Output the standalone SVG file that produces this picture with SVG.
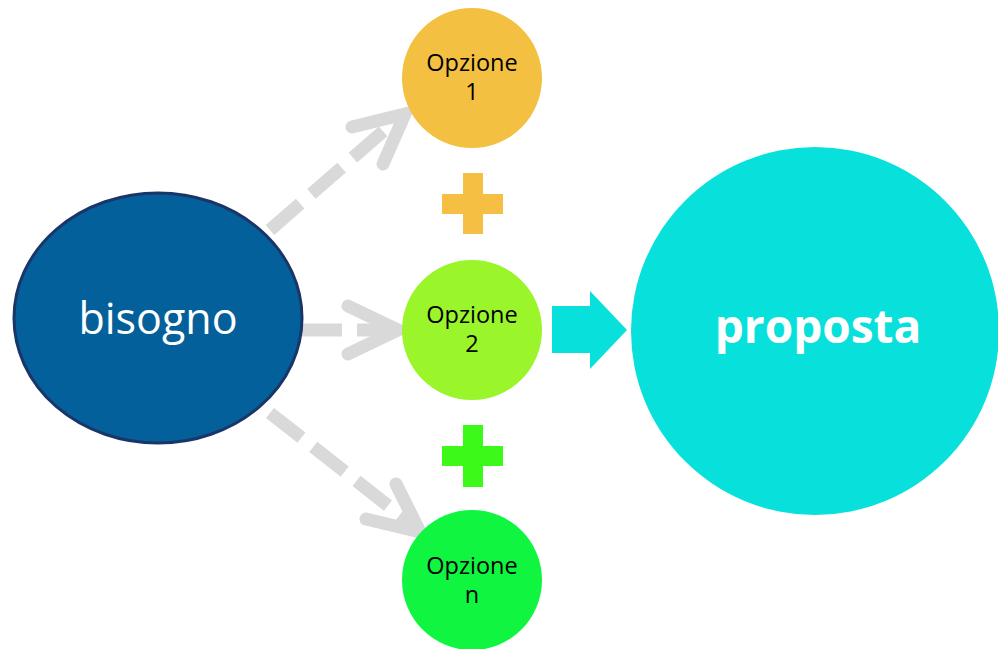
<svg xmlns="http://www.w3.org/2000/svg" width="998" height="649" viewBox="0 0 998 649">
<style>
.opt{font-family:"Open Sans","Noto Sans",sans-serif;font-size:23.5px;fill:#000;text-anchor:middle}
.dash{fill:none;stroke:#d9d9d9;stroke-width:13;stroke-dasharray:40 15}
.head{fill:none;stroke:#d9d9d9;stroke-width:13;stroke-linecap:round;stroke-linejoin:miter}
</style>
<rect width="998" height="649" fill="#fff"/>
<g id="connectors">
<path class="dash" d="M270,230 L395,121"/>
<path class="head" d="M352,127 L405,114 L383,164"/>
<path class="dash" d="M302,330 L392,330"/>
<path class="head" d="M348,306 L398,330 L348,354"/>
<path class="dash" d="M270,413 L410,523"/>
<path class="head" d="M396,484 L420,532 L366,519"/>
<polygon id="arrow-cyan" points="552,306 590,306 590,291 627,330 590,369 590,353 552,353" fill="#08e0dc"/>
</g>
<g id="bisogno">
<ellipse cx="158" cy="318" rx="144" ry="125" fill="#03609a" stroke="#1a3668" stroke-width="3"/>
<text x="158" y="334" font-family="Open Sans,Noto Sans,sans-serif" font-size="43" fill="#fff" text-anchor="middle">bisogno</text>
</g>
<g id="opzione1">
<circle cx="472" cy="78" r="70" fill="#f4c042"/>
<text class="opt" x="472" y="71">Opzione</text>
<text class="opt" x="472" y="100">1</text>
</g>
<g id="plus1">
<rect x="442" y="194" width="61" height="20" fill="#f4bf42"/>
<rect x="463" y="173" width="20" height="61" fill="#f4bf42"/>
</g>
<g id="opzione2">
<circle cx="472" cy="330" r="70" fill="#9af52a"/>
<text class="opt" x="472" y="323">Opzione</text>
<text class="opt" x="472" y="352">2</text>
</g>
<g id="plus2">
<rect x="442" y="446" width="61" height="20" fill="#3cf91a"/>
<rect x="463" y="425" width="20" height="62" fill="#3cf91a"/>
</g>
<g id="opzionen">
<circle cx="472" cy="580" r="70" fill="#10f540"/>
<text class="opt" x="472" y="574">Opzione</text>
<text class="opt" x="472" y="603">n</text>
</g>
<g id="proposta">
<circle cx="815" cy="331" r="184" fill="#08e0dc"/>
<text x="818" y="343" font-family="Open Sans,Noto Sans,sans-serif" font-size="46" font-weight="bold" fill="#fff" text-anchor="middle">proposta</text>
</g>
</svg>
